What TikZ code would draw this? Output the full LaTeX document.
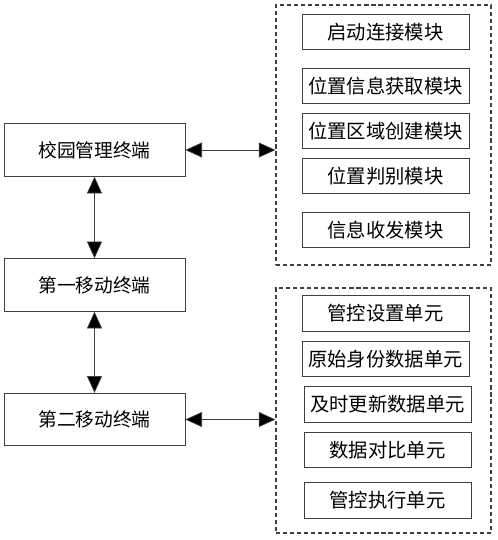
\documentclass[tikz,border=0pt]{standalone}
\usepackage{fontspec}
\newfontfamily\cjk{Noto Sans CJK SC}
\usetikzlibrary{arrows.meta}

\tikzset{
  terminal/.style={draw=black!75, line width=0.6pt, minimum width=5.43cm, minimum height=1.58cm,
    inner sep=0pt, font=\cjk\fontsize{16}{18}\selectfont},
  module/.style={draw=black!75, line width=0.6pt, minimum width=5.01cm, minimum height=1.07cm,
    inner sep=0pt, font=\cjk\fontsize{16.5}{18}\selectfont},
  group/.style={draw=black!75, line width=0.9pt, dash pattern=on 3.5pt off 2.5pt, inner sep=0pt},
  link/.style={draw=black!75, line width=0.6pt,
    {Triangle[length=5mm,width=4.5mm,fill=black]}-{Triangle[length=5mm,width=4.5mm,fill=black]}}
}

\begin{document}
\begin{tikzpicture}[x=0.03cm, y=-0.03cm]
\useasboundingbox (0,0) rectangle (497,540);

\node[terminal] (campus) at (94.5,150){校园管理终端};
\node[terminal] (first) at (94.5,285){第一移动终端};
\node[terminal] (second) at (94.5,419.5){第二移动终端};

\node[group, minimum width=6.45cm, minimum height=7.8cm] (topgroup) at (383.5,135){};
\node[group, minimum width=6.45cm, minimum height=7.35cm] (botgroup) at (383.5,410.5){};

\foreach \i/\y/\txt in {1/32/启动连接模块, 2/86/位置信息获取模块, 3/131/位置区域创建模块,
  4/176/位置判别模块, 5/230/信息收发模块}
\node[module] (mod\i) at (385.5,\y){\txt};

\foreach \i/\x/\y/\txt in {1/385.5/313.5/管控设置单元, 2/385.5/359/原始身份数据单元,
  3/387.5/404.5/及时更新数据单元, 4/387.5/450/数据对比单元, 5/387.5/500.5/管控执行单元}
\node[module] (unit\i) at (\x,\y){\txt};

\draw[link] (campus) -- (topgroup.west |- campus);
\draw[link] (second) -- (botgroup.west |- second);
\foreach \from/\to in {campus/first, first/second}
\draw[link] (\from) -- (\to);
\end{tikzpicture}
\end{document}
